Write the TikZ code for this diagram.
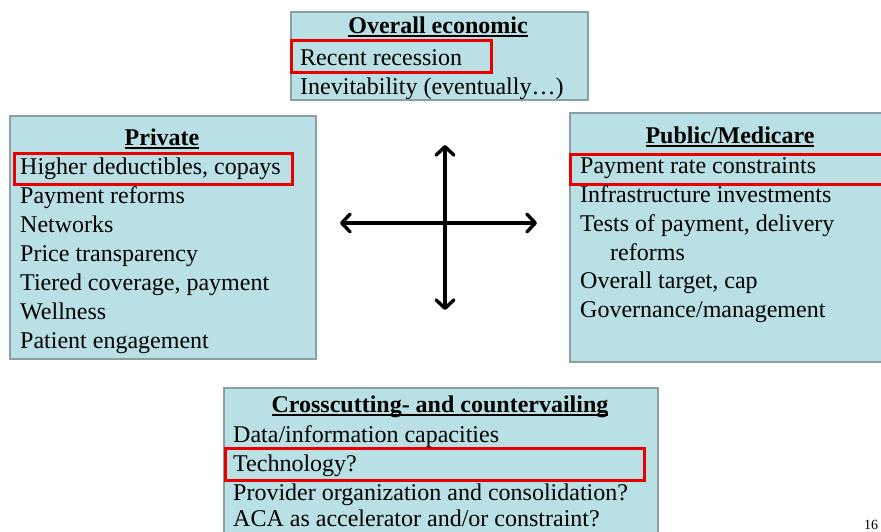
\documentclass[tikz,border=0pt]{standalone}
\usepackage{fontspec}
\setmainfont{Liberation Serif}
\usetikzlibrary{arrows.meta}
\definecolor{panelfill}{RGB}{185,224,228}
\definecolor{panelline}{RGB}{138,160,165}
\definecolor{hlred}{RGB}{235,0,0}
\tikzset{
  panel/.style={draw=panelline, fill=panelfill, line width=2pt, rectangle, inner sep=0pt, anchor=north west},
  hlbox/.style={draw=hlred, line width=2.6pt, rectangle, inner sep=0pt, anchor=north west},
  txt/.style={inner sep=0pt, anchor=base west, font=\fontsize{24}{29}\selectfont},
  ttl/.style={inner sep=0pt, anchor=base, font=\fontsize{24}{29}\selectfont\bfseries},
  arr/.style={line width=3.4pt, line cap=round, {Straight Barb[length=8.5pt, width=18pt, line cap=round, line join=round]}-{Straight Barb[length=8.5pt, width=18pt, line cap=round, line join=round]}},
}
% underlined heading with the rule at a fixed depth below the baseline
\newsavebox\ttlsave
\newcommand\headline[1]{\sbox\ttlsave{#1}\usebox\ttlsave\llap{\rule[-3.6pt]{\wd\ttlsave}{1.8pt}}}
\begin{document}
\begin{tikzpicture}[x=1pt, y=-1pt]
\useasboundingbox (0,0) rectangle (881,531);
\clip (0,0) rectangle (881,531);
\fill[white] (0,0) rectangle (881,531);

% Overall economic
\node[panel, minimum width=297pt, minimum height=88pt] (econ) at (290,11) {};
\node[hlbox, minimum width=200pt, minimum height=32pt] (econhl) at (290,39) {};
\node[ttl] (econT) at (438,33) {\headline{Overall economic}};
\node[txt] (econ1) at (300,65) {Recent recession};
\node[txt] (econ2) at (300,94) {Inevitability (eventually\ldots)};

% Private
\node[panel, minimum width=306pt, minimum height=243pt] (priv) at (9,115) {};
\node[hlbox, minimum width=278pt, minimum height=31pt] (privhl) at (13,152) {};
\node[ttl] (privT) at (162,145) {\headline{Private}};
\node[txt] (priv1) at (20,174) {Higher deductibles, copays};
\node[txt] (priv2) at (20,203) {Payment reforms};
\node[txt] (priv3) at (20,232) {Networks};
\node[txt] (priv4) at (20,261) {Price transparency};
\node[txt] (priv5) at (20,290) {Tiered coverage, payment};
\node[txt] (priv6) at (20,319) {Wellness};
\node[txt] (priv7) at (20,348) {Patient engagement};

% Public/Medicare
\node[panel, minimum width=322pt, minimum height=249pt] (pub) at (569,112) {};
\node[hlbox, minimum width=330pt, minimum height=30pt] (pubhl) at (569,153) {};
\node[ttl] (pubT) at (730,143) {\headline{Public/Medicare}};
\node[txt] (pub1) at (580,173) {Payment rate constraints};
\node[txt] (pub2) at (580,202) {Infrastructure investments};
\node[txt] (pub3) at (580,231) {Tests of payment, delivery};
\node[txt] (pub4) at (610,260) {reforms};
\node[txt] (pub5) at (580,288) {Overall target, cap};
\node[txt] (pub6) at (580,317) {Governance/management};

% Crosscutting
\node[panel, minimum width=434pt, minimum height=160pt] (cross) at (223,387) {};
\node[hlbox, minimum width=419pt, minimum height=32pt] (crosshl) at (224,447) {};
\node[ttl] (crossT) at (440,412) {\headline{Crosscutting- and countervailing}};
\node[txt] (cross1) at (233,442) {Data/information capacities};
\node[txt] (cross2) at (233,471) {Technology?};
\node[txt] (cross3) at (233,500) {Provider organization and consolidation?};
\node[txt] (cross4) at (233,526) {ACA as accelerator and/or constraint?};

% Central cross of arrows
\coordinate (aL) at (340,223);
\coordinate (aR) at (537,223);
\coordinate (aT) at (445,145);
\coordinate (aB) at (445,310);
\draw[arr] (aL) -- (aR);
\draw[arr] (aT) -- (aB);

% Slide number
\node[inner sep=0pt, anchor=base west, font=\fontsize{14}{16}\selectfont] (pagenum) at (864,529) {16};
\end{tikzpicture}
\end{document}
